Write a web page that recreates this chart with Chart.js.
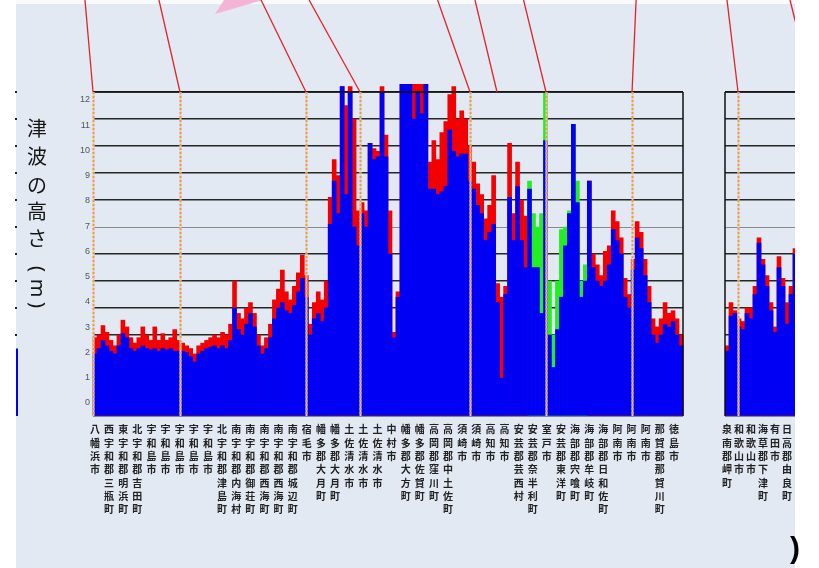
<!DOCTYPE html>
<html><head><meta charset="utf-8">
<script src="https://cdn.jsdelivr.net/npm/chart.js@4"></script>
<style>
html,body{margin:0;padding:0;background:#e2e9f3;width:819px;height:568px;overflow:hidden}
#c1{position:absolute;left:0;top:0}
#c2{position:absolute;left:700px;top:0}
</style></head><body>
<canvas id="c1" width="819" height="568"></canvas>
<canvas id="c2" width="119" height="568"></canvas>
<script>
// ---------- data ----------
const yTickValues = [0,1,2,3,4,5,6,7,8,9,10,11,12];
const yTitle = ['津','波','の','高','さ','（','m','）'];

const placeNames = ['八幡浜市','西宇和郡三瓶町','東宇和郡明浜町','北宇和郡吉田町','宇和島市','宇和島市','宇和島市','宇和島市','宇和島市',
 '北宇和郡津島町','南宇和郡内海村','南宇和郡御荘町','南宇和郡西海町','南宇和郡西海町','南宇和郡城辺町','宿毛市','幡多郡大月町','幡多郡大月町',
 '土佐清水市','土佐清水市','土佐清水市','中村市','幡多郡大方町','幡多郡佐賀町','高岡郡窪川町','高岡郡中土佐町','須崎市','須崎市',
 '高知市','高知市','安芸郡芸西村','安芸郡奈半利町','室戸市','安芸郡東洋町','海部郡宍喰町','海部郡牟岐町','海部郡日和佐町',
 '阿南市','阿南市','阿南市','那賀郡那賀川町','徳島市'];

const blueMain = [
2.3,2.5,2.8,2.6,2.4,2.3,2.6,3.05,2.9,2.5,
2.4,2.5,2.6,2.5,2.45,2.5,2.4,2.5,2.45,2.5,
2.4,2.4,2.4,2.35,2.2,2.0,2.3,2.4,2.5,2.55,
2.6,2.5,2.6,2.5,2.8,4.0,3.2,3.0,3.4,3.8,
3.3,2.6,2.3,2.5,2.9,3.6,4.0,4.2,3.9,3.8,
4.1,4.6,5.1,4.4,3.0,3.6,3.8,3.5,4.0,7.1,
8.7,7.5,12.2,8.2,12.0,7.0,6.3,7.5,7.0,10.1,
9.5,9.6,12.0,9.6,6.0,2.9,4.4,12.3,12.3,12.3,
11.0,12.0,11.2,12.3,8.4,8.4,8.2,8.3,8.5,10.6,
9.8,9.6,9.7,9.7,8.7,8.4,7.8,7.5,6.5,6.8,
7.1,4.2,1.4,4.5,8.1,6.5,8.5,6.5,5.5,8.4,
5.5,5.5,3.8,10.2,3.0,1.8,3.2,4.4,6.3,7.5,
10.8,7.9,4.4,5.0,8.7,5.5,5.0,4.8,5.0,5.6,
6.9,6.5,6.0,4.4,4.0,5.4,6.6,6.2,5.2,4.2,
3.0,2.7,3.0,3.4,3.3,3.5,3.0,2.6];

const redMain = [
2.9,3.0,3.35,3.1,2.8,2.6,3.0,3.55,3.3,2.9,
2.7,2.9,3.3,3.0,2.8,3.3,2.8,3.05,2.8,2.9,
3.2,2.8,2.7,2.6,2.5,2.3,2.6,2.7,2.8,2.9,
3.0,2.9,3.1,3.0,3.4,5.0,3.8,3.6,4.0,4.2,
3.8,3.0,2.6,2.9,3.4,4.3,4.7,5.4,4.6,4.3,
4.8,5.3,5.95,5.2,3.4,4.2,4.6,4.3,5.0,8.1,
9.5,8.9,12.2,11.5,12.2,11.0,7.6,7.9,7.6,10.1,
9.9,9.8,12.2,10.4,7.6,3.1,4.6,12.3,12.3,12.3,
12.3,12.3,12.3,12.3,9.4,10.2,9.5,10.5,10.9,11.9,
12.2,11.0,11.3,11.0,10.0,9.4,8.6,8.2,7.3,7.8,
8.9,4.9,4.4,4.8,10.1,7.5,9.4,8.0,7.4,null,
null,null,null,null,null,null,null,null,null,null,
null,null,null,null,8.7,6.0,5.6,5.2,6.1,6.3,
7.6,7.2,6.6,5.1,4.5,5.8,7.2,6.8,5.8,4.8,
3.6,3.3,3.6,4.2,3.8,3.9,3.6,3.0];

const greenStartIndex = 109;
const greenValues = [8.7,7.5,7.0,7.5,12.0,5.0,3.0,5.0,6.9,7.0,7.6,10.8,8.7,5.0,5.6];

// boundary (dotted) lines and leader lines, in place-label units
const boundaryPos = [-0.14, 6.02, 14.94, 18.77, 26.56, 31.94, 38.03];
const leaderTop    = [-0.71, 4.53, 11.76, 15.16, 24.26, 26.91, 30.35, 38.32];
const leaderBottom = [-0.14, 6.02, 14.94, 18.77, 26.56, 28.47, 31.94, 38.03];

// second panel
const placeNames2 = ['泉南郡岬町','和歌山市','和歌山市','海草郡下津町','有田市','日高郡由良町'];
const blue2 = [2.4,3.7,3.8,3.3,3.2,3.8,3.6,4.5,6.4,5.6,4.8,3.9,3.1,5.5,4.8,3.4,4.5,6.0];
const red2  = [2.6,4.2,3.9,3.6,3.5,4.0,4.0,4.8,6.6,5.8,5.2,4.2,3.3,5.9,5.1,4.2,4.8,6.2];
const boundaryPos2 = [0.92];
const leaderTop2 = [0, 5.25];
const leaderBottom2 = [0.92, 7.17];

// ---------- build ----------
const greenMain = blueMain.map((_, i) => {
  const k = i - greenStartIndex;
  return (k >= 0 && k < greenValues.length) ? greenValues[k] : null;
});

const BLUE = '#0000f5', RED = '#f50000', GREEN = '#22ee22';
const gridColor = ctx => ctx.tick && ctx.tick.value === 7 ? '#8a8a8a' : '#262626';
const gridWidth = ctx => ctx.tick && ctx.tick.value === 7 ? 1 : 1.6;
const labelFont = {family:'"Noto Sans CJK JP"', size:10, weight:'bold', lineHeight:1.33};

function line(c, x1, y1, x2, y2){ c.beginPath(); c.moveTo(x1,y1); c.lineTo(x2,y2); c.stroke(); }
function drawBoundaries(c, xs, a, list){
  list.forEach(p => {
    const x = Math.round(xs.getPixelForValue(p)) + 0.5;
    c.setLineDash([]); c.strokeStyle = 'rgba(214,204,232,0.95)'; c.lineWidth = 2;
    line(c, x, a.top, x, a.bottom);
    c.setLineDash([2,2]); c.strokeStyle = '#f6a11c';
    line(c, x, a.top, x, a.bottom);
  });
  c.setLineDash([]);
}
function drawLeaders(c, xs, a, tops, bottoms){
  c.strokeStyle = '#e3232b'; c.lineWidth = 1.3;
  tops.forEach((t, i) => line(c, xs.getPixelForValue(t), 0, xs.getPixelForValue(bottoms[i]), a.top));
}

const deco1 = {
  id: 'deco1',
  beforeDraw(chart){
    const c = chart.ctx;
    c.save();
    c.fillStyle = '#ffffff'; c.fillRect(0, 0, 16, chart.height);
    c.fillStyle = '#fafbfd'; c.fillRect(16, 0, chart.width, 4);
    c.fillStyle = '#f4b4d6';
    c.beginPath(); c.moveTo(215, 14); c.lineTo(263, 0); c.lineTo(224, 0); c.closePath(); c.fill();
    c.restore();
  },
  afterDatasetsDraw(chart){
    const c = chart.ctx, xs = chart.scales.xl, ys = chart.scales.y, a = chart.chartArea;
    c.save();
    c.strokeStyle = '#111'; c.lineWidth = 1.5;
    line(c, a.right, a.top, a.right, a.bottom);
    line(c, a.left, a.top, a.right, a.top);
    drawBoundaries(c, xs, a, boundaryPos);
    drawLeaders(c, xs, a, leaderTop, leaderBottom);
    // remnants of the neighbouring chart at the left edge
    c.fillStyle = '#222';
    yTickValues.filter(v => v >= 3).forEach(v => c.fillRect(15, ys.getPixelForValue(v) - 1, 2, 2));
    c.fillStyle = BLUE;
    const yb = ys.getPixelForValue(2.5);
    c.fillRect(16, yb, 2, a.bottom - yb);
    c.restore();
  },
  afterDraw(chart){
    const c = chart.ctx;
    c.save();
    c.font = '20px "Noto Sans CJK JP"';
    c.fillStyle = '#151515'; c.textAlign = 'center'; c.textBaseline = 'middle';
    const yPos = [128, 156, 185, 211, 238, 269, 288, 305];
    yTitle.forEach((ch, i) => {
      if (i < 5) { c.fillText(ch, 37, yPos[i]); }
      else {
        c.save(); c.translate(37, yPos[i]); c.rotate(Math.PI/2);
        c.font = '20px "Noto Sans"';
        c.fillText(ch === '（' ? '(' : ch === '）' ? ')' : ch, 0, 0);
        c.restore();
      }
    });
    c.restore();
  }
};

new Chart(document.getElementById('c1'), {
  type: 'bar',
  data: {
    labels: blueMain.map((_, i) => i),
    datasets: [
      {data: blueMain, backgroundColor: BLUE, order: 0, xAxisID:'x', yAxisID:'y', clip: 8},
      {data: greenMain, backgroundColor: GREEN, order: 1, xAxisID:'x', yAxisID:'y', clip: 8},
      {data: redMain, backgroundColor: RED, order: 2, xAxisID:'x', yAxisID:'y', clip: 8}
    ]
  },
  options: {
    responsive: false, animation: false,
    layout: {padding: {left: 0, right: 136, top: 92, bottom: 0}},
    datasets: {bar: {grouped: false, barPercentage: 1, categoryPercentage: 1, borderWidth: 0}},
    plugins: {legend: {display: false}, tooltip: {enabled: false}},
    scales: {
      x: {display: false},
      y: {min: 0, max: 12, position: 'left',
          ticks: {display: false, stepSize: 1},
          grid: {color: gridColor, lineWidth: gridWidth, drawTicks: false},
          border: {display: false},
          afterFit: s => { s.width = 0; }},
      yl: {type: 'linear', position: 'left', min: -0.515, max: 12.317,
          afterBuildTicks: s => { s.ticks = yTickValues.map(v => ({value: v})); },
          ticks: {color: '#555', font: {family: '"Liberation Sans"', size: 9}, padding: 3},
          grid: {display: false, drawTicks: false}, border: {display: false},
          afterFit: s => { s.width = 93; }},
      xl: {type: 'linear', position: 'bottom', offset: false, min: -0.1416, max: 41.64,
          afterBuildTicks: s => { s.ticks = placeNames.map((_, i) => ({value: i})); },
          ticks: {autoSkip: false, maxRotation: 0, minRotation: 0, color: '#222', font: labelFont, padding: 7,
                  callback: v => Array.from(placeNames[v] || '')},
          grid: {display: false, drawTicks: false, offset: false}, border: {display: false},
          afterFit: s => { s.height = 152; }}
    }
  },
  plugins: [deco1]
});

const deco2 = {
  id: 'deco2',
  beforeDraw(chart){
    const c = chart.ctx;
    c.save(); c.fillStyle = '#fafbfd'; c.fillRect(0, 0, chart.width, 4); c.restore();
  },
  afterDatasetsDraw(chart){
    const c = chart.ctx, xs = chart.scales.xl, a = chart.chartArea;
    c.save();
    c.strokeStyle = '#111'; c.lineWidth = 1.5;
    line(c, a.left, a.top, a.left, a.bottom);
    line(c, a.left, a.top, a.right, a.top);
    drawBoundaries(c, xs, a, boundaryPos2);
    drawLeaders(c, xs, a, leaderTop2, leaderBottom2);
    c.restore();
  },
  afterDraw(chart){
    const c = chart.ctx;
    c.save();
    c.fillStyle = '#ffffff'; c.fillRect(95, 0, chart.width - 95, chart.height);
    c.fillStyle = '#000'; c.font = 'bold 30px "Liberation Sans"';
    c.textAlign = 'left'; c.textBaseline = 'middle';
    c.fillText(')', 90, 550);
    c.restore();
  }
};

new Chart(document.getElementById('c2'), {
  type: 'bar',
  data: {
    labels: blue2.map((_, i) => i),
    datasets: [
      {data: blue2, backgroundColor: BLUE, order: 0, xAxisID:'x', yAxisID:'y'},
      {data: red2, backgroundColor: RED, order: 2, xAxisID:'x', yAxisID:'y'}
    ]
  },
  options: {
    responsive: false, animation: false,
    layout: {padding: {left: 25, right: 22, top: 92, bottom: 0}},
    datasets: {bar: {grouped: false, barPercentage: 1, categoryPercentage: 1, borderWidth: 0}},
    plugins: {legend: {display: false}, tooltip: {enabled: false}},
    scales: {
      x: {display: false},
      y: {min: 0, max: 12, position: 'left',
          ticks: {display: false, stepSize: 1},
          grid: {color: gridColor, lineWidth: gridWidth, drawTicks: false},
          border: {display: false},
          afterFit: s => { s.width = 0; }},
      xl: {type: 'linear', position: 'bottom', offset: false, min: -0.167, max: 5.833,
          afterBuildTicks: s => { s.ticks = placeNames2.map((_, i) => ({value: i})); },
          ticks: {autoSkip: false, maxRotation: 0, minRotation: 0, color: '#222', font: labelFont, padding: 7,
                  callback: v => Array.from(placeNames2[v] || '')},
          grid: {display: false, drawTicks: false, offset: false}, border: {display: false},
          afterFit: s => { s.height = 152; }}
    }
  },
  plugins: [deco2]
});
</script>
</body></html>
